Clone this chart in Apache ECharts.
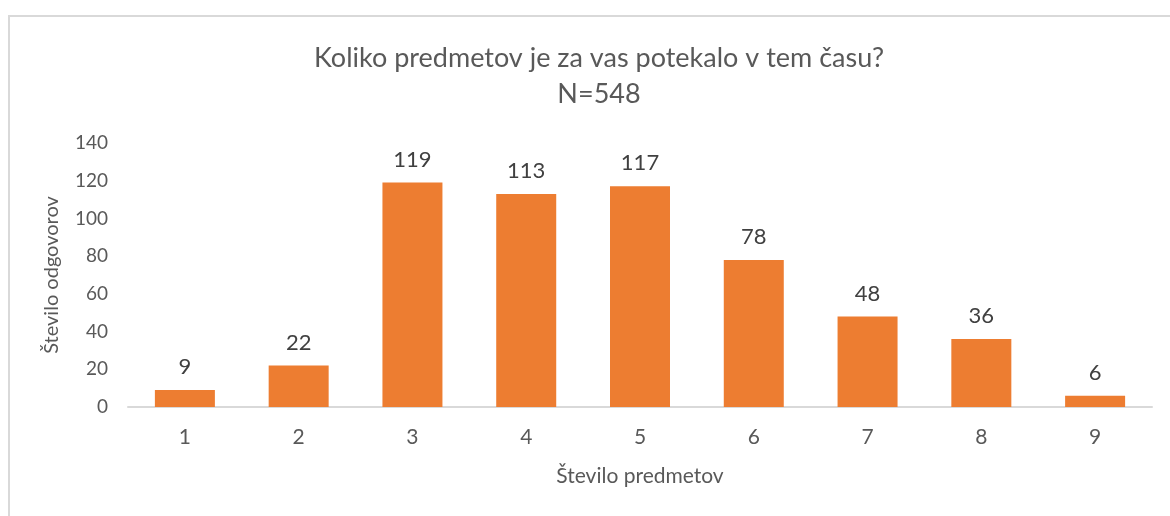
<!DOCTYPE html>
<html>
<head>
<meta charset="utf-8">
<script src="https://cdn.jsdelivr.net/npm/echarts@6/dist/echarts.min.js"></script>
<style>
  html, body { margin: 0; padding: 0; background: #fff; }
  #frame { position: absolute; left: 8px; top: 15px; width: 1180px; height: 520px; border: 2px solid #d9d9d9; box-sizing: border-box; }
  #main { position: absolute; left: 0; top: 0; width: 1170px; height: 516px; }
</style>
</head>
<body>
<div id="frame"></div>
<div id="main"></div>
<script>
// podatki
var categories = ['1', '2', '3', '4', '5', '6', '7', '8', '9'];
var answers = [9, 22, 119, 113, 117, 78, 48, 36, 6];
var yTicks = { min: 0, max: 140, step: 20 };

var font = 'Lato, "Open Sans", sans-serif';
var myChart = echarts.init(document.getElementById('main'));

var option = {
    animation: false,
    title: {
        text: 'Koliko predmetov je za vas potekalo v tem času?\nN=548',
        left: 594,
        top: 35,
        textAlign: 'center',
        textStyle: { fontFamily: font, fontSize: 27, fontWeight: 'normal', color: '#595959', lineHeight: 36 }
    },
    grid: { left: 128, right: 18, top: 143, bottom: 109, containLabel: false },
    xAxis: {
        type: 'category',
        data: categories,
        name: 'Število predmetov',
        nameLocation: 'middle',
        nameGap: 59,
        nameTextStyle: { fontFamily: font, fontSize: 21, color: '#595959' },
        axisLine: { lineStyle: { color: '#d9d9d9', width: 2 } },
        axisTick: { show: false },
        axisLabel: { fontFamily: font, fontSize: 21, color: '#595959', margin: 20 }
    },
    yAxis: {
        type: 'value',
        min: yTicks.min,
        max: yTicks.max,
        interval: yTicks.step,
        name: 'Število odgovorov',
        nameLocation: 'middle',
        nameGap: 66,
        nameRotate: 90,
        nameTextStyle: { fontFamily: font, fontSize: 20, color: '#595959' },
        axisLine: { show: false },
        axisTick: { show: false },
        splitLine: { show: false },
        axisLabel: { fontFamily: font, fontSize: 19, color: '#595959', margin: 20 }
    },
    series: [{
        type: 'bar',
        data: answers,
        barWidth: 60,
        itemStyle: { color: '#ED7D31' },
        label: {
            show: true,
            position: 'top',
            distance: 12,
            fontFamily: font,
            fontSize: 22,
            color: '#404040'
        }
    }]
};

myChart.setOption(option);
</script>
</body>
</html>
